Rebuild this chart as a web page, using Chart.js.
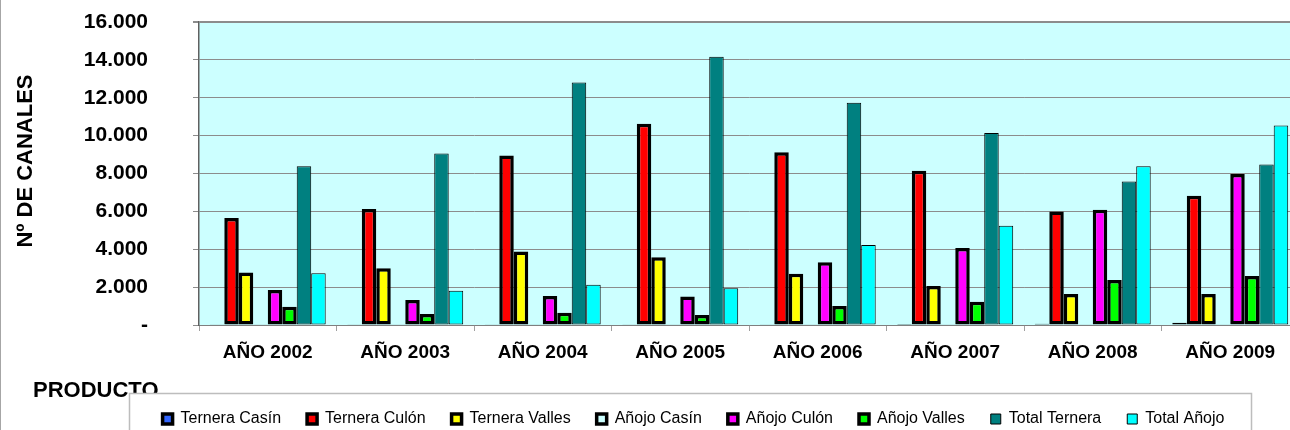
<!DOCTYPE html>
<html><head><meta charset="utf-8">
<script src="https://cdn.jsdelivr.net/npm/chart.js@4/dist/chart.umd.min.js"></script>
<style>
html,body{margin:0;padding:0;background:#fff;overflow:hidden;}
#wrap{position:relative;width:1300px;height:440px;}
</style></head><body>
<div id="wrap"><canvas id="c"></canvas></div>
<script>
const categories = ['AÑO 2002','AÑO 2003','AÑO 2004','AÑO 2005','AÑO 2006','AÑO 2007','AÑO 2008','AÑO 2009'];
const seriesNames = ['Ternera Casín','Ternera Culón','Ternera Valles','Añojo Casín','Añojo Culón','Añojo Valles','Total Ternera','Total Añojo'];
const terneraCasin  = [40, 40, 40, 40, 40, 50, 70, 120];
const terneraCulon  = [5650, 6120, 8950, 10630, 9120, 8150, 6000, 6830];
const terneraValles = [2770, 3000, 3880, 3580, 2700, 2060, 1640, 1640];
const anojoCasin    = [10, 10, 10, 10, 10, 10, 10, 10];
const anojoCulon    = [1850, 1320, 1530, 1500, 3320, 4060, 6080, 7970];
const anojoValles   = [970, 580, 650, 530, 1000, 1230, 2380, 2590];
const totalTernera  = [8380, 9050, 12800, 14160, 11730, 10140, 7580, 8470];
const totalAnojo    = [2730, 1810, 2120, 1940, 4220, 5240, 8380, 10530];
const yTickLabels = ['-','2.000','4.000','6.000','8.000','10.000','12.000','14.000','16.000'];
const yTitle = 'Nº DE CANALES';
const xTitle = 'PRODUCTO';

const seriesData = [terneraCasin, terneraCulon, terneraValles, anojoCasin, anojoCulon, anojoValles, totalTernera, totalAnojo];
const seriesColors = ['#3366ff','#ff0000','#ffff00','#ccffff','#ff00ff','#00ff00','#008080','#00ffff'];
const seriesBorders = [3.5,3.5,3.5,3.5,3.5,3.5,1,1];

Chart.defaults.font.family = '"Liberation Sans", Arial, sans-serif';

const decor = {
  id: 'decor',
  afterLayout(chart) {
    if (chart.legend) { chart.legend.left += 44; chart.legend.right += 44; }
  },
  beforeDraw(chart) {
    const {ctx, chartArea: a} = chart;
    ctx.save();
    ctx.fillStyle = '#ccffff';
    ctx.fillRect(a.left, a.top, a.right - a.left, a.bottom - a.top);
    ctx.strokeStyle = '#a6a6a6'; ctx.lineWidth = 1;
    ctx.beginPath(); ctx.moveTo(0.5, 0); ctx.lineTo(0.5, 440); ctx.stroke();
    ctx.fillStyle = '#000';
    ctx.font = 'bold 22px "Liberation Sans", Arial, sans-serif';
    ctx.textBaseline = 'alphabetic'; ctx.textAlign = 'left';
    ctx.fillText(xTitle, 33, 397);
    ctx.save();
    ctx.translate(32, 161);
    ctx.rotate(-Math.PI / 2);
    ctx.textAlign = 'center';
    ctx.fillText(yTitle, 0, 0);
    ctx.restore();
    ctx.fillStyle = '#fff';
    ctx.fillRect(129, 393, 1123, 60);
    ctx.strokeStyle = '#bdbdbd'; ctx.lineWidth = 1.5;
    ctx.strokeRect(129.5, 393.5, 1122, 60);
    ctx.restore();
  }
};

new Chart(document.getElementById('c'), {
  type: 'bar',
  data: {
    labels: categories,
    datasets: seriesNames.map((n, i) => ({
      label: n,
      data: seriesData[i],
      backgroundColor: seriesColors[i],
      borderColor: '#000',
      borderWidth: seriesBorders[i],
      borderSkipped: false,
      categoryPercentage: 0.843,
      barPercentage: 1.0
    }))
  },
  options: {
    responsive: true,
    maintainAspectRatio: false,
    animation: false,
    layout: { padding: { top: 22, right: 1, bottom: 3, left: 0 } },
    plugins: {
      tooltip: { enabled: false },
      legend: {
        position: 'bottom',
        labels: { boxWidth: 10, boxHeight: 10, padding: 26, color: '#000', font: { size: 16 } }
      }
    },
    scales: {
      x: {
        grid: { display: true, drawOnChartArea: false, drawTicks: true, tickLength: 6, color: '#a0a0a0' },
        border: { display: true, color: '#7f7f7f', width: 1 },
        ticks: { color: '#000', font: { size: 19, weight: 'bold' }, padding: 10, maxRotation: 0, autoSkip: false },
        afterFit: s => { s.height = 60; }
      },
      y: {
        min: 0, max: 16000,
        ticks: { stepSize: 2000, callback: (v, i) => yTickLabels[i], color: '#000', font: { size: 21, weight: 'bold' }, padding: 45 },
        grid: { color: '#8c8c8c', lineWidth: c => (c.index === yTickLabels.length - 1 ? 2 : 1), tickLength: 6, tickColor: '#8c8c8c' },
        border: { display: true, color: '#606060', width: 1.5 },
        title: { display: false },
        afterFit: s => { s.width = 199; s.paddingTop = 12; s.paddingBottom = 12; }
      }
    }
  },
  plugins: [decor]
});
</script>
</body></html>
